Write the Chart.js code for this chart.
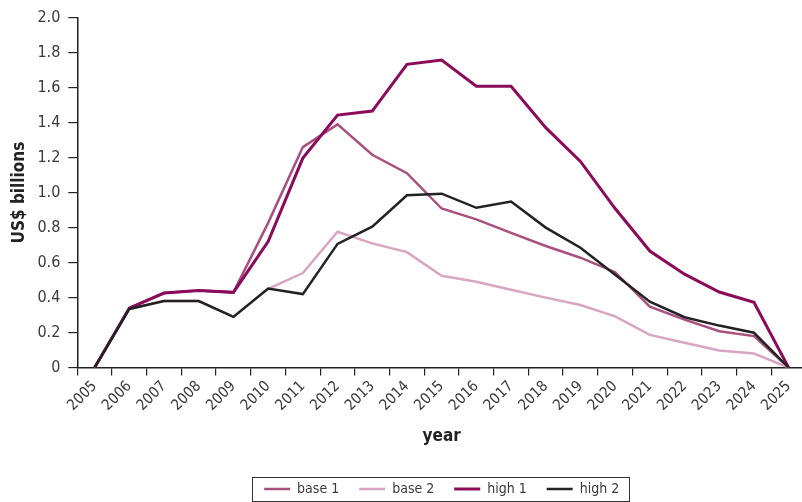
<!DOCTYPE html>
<html>
<head>
<meta charset="utf-8">
<script src="https://cdn.jsdelivr.net/npm/chart.js@4.4.1/dist/chart.umd.min.js"></script>
<style>
  html, body { margin: 0; padding: 0; background: #fff; overflow: hidden; }
  #wrap { width: 802px; height: 502px; overflow: hidden; }
</style>
</head>
<body>
<div id="wrap"><canvas id="chart" width="806" height="506"></canvas></div>
<script>
  // values (US$ billions)
  const years = ["2005","2006","2007","2008","2009","2010","2011","2012","2013","2014","2015",
                 "2016","2017","2018","2019","2020","2021","2022","2023","2024","2025"];
  const base1 = [0, 0.34, 0.426, 0.44, 0.43, 0.827, 1.26, 1.39, 1.216, 1.111, 0.909,
                 0.847, 0.77, 0.695, 0.628, 0.545, 0.348, 0.274, 0.208, 0.18, 0];
  const base2 = [0, 0.335, 0.38, 0.38, 0.29, 0.45, 0.54, 0.776, 0.71, 0.66, 0.525,
                 0.49, 0.445, 0.40, 0.358, 0.293, 0.187, 0.142, 0.098, 0.08, 0];
  const high1 = [0, 0.34, 0.426, 0.44, 0.43, 0.72, 1.197, 1.443, 1.466, 1.733, 1.757,
                 1.608, 1.608, 1.371, 1.178, 0.909, 0.666, 0.534, 0.432, 0.373, 0];
  const high2 = [0, 0.335, 0.38, 0.38, 0.29, 0.452, 0.42, 0.707, 0.805, 0.985, 0.994,
                 0.913, 0.949, 0.80, 0.685, 0.53, 0.377, 0.288, 0.24, 0.199, 0];

  const FONT = "'Liberation Sans Narrow', 'DejaVu Sans Condensed', sans-serif";

  // border round the legend items
  const legendFrame = {
    id: "legendFrame",
    afterDraw(chart) {
      const boxes = chart.legend && chart.legend.legendHitBoxes;
      if (!boxes || !boxes.length) return;
      const left = Math.min(...boxes.map(b => b.left)) - 12;
      const right = Math.max(...boxes.map(b => b.left + b.width)) + 10;
      const top = Math.min(...boxes.map(b => b.top)) - 5;
      const bottom = Math.max(...boxes.map(b => b.top + b.height)) + 5;
      const ctx = chart.ctx;
      ctx.save();
      ctx.strokeStyle = "#333";
      ctx.lineWidth = 1;
      ctx.strokeRect(Math.round(left) + 0.5, Math.round(top) + 0.5,
                     Math.round(right - left), Math.round(bottom - top));
      ctx.restore();
    },
  };

  const line = (label, data, color, width, order) => ({
    label, data, order,
    borderColor: color,
    backgroundColor: color,
    borderWidth: width,
    pointRadius: 0,
    tension: 0,
    fill: false,
  });

  new Chart(document.getElementById("chart"), {
    type: "line",
    data: {
      labels: years,
      datasets: [
        line("base 1", base1, "#a9507f", 2.5, 3),
        line("base 2", base2, "#d8a5c3", 2.5, 2),
        line("high 1", high1, "#8b0a5a", 3, 1),
        line("high 2", high2, "#222222", 2.5, 0),
      ],
    },
    options: {
      responsive: false,
      animation: false,
      layout: { padding: { top: 6, right: 0, bottom: 0, left: 9 } },
      scales: {
        x: {
          offset: true,
          grid: { offset: true, drawOnChartArea: false, drawTicks: true, tickLength: 8, color: "#222", lineWidth: 1.2 },
          border: { display: true, color: "#222", width: 1.5 },
          ticks: { minRotation: 45, maxRotation: 45, autoSkip: false, padding: 2, color: "#3a3a3a",
                   font: { family: FONT, size: 15 } },
          title: { display: true, text: "year", color: "#222", padding: { top: 10, bottom: 15 },
                   font: { family: FONT, size: 17, weight: "bold" } },
        },
        y: {
          min: 0, max: 2,
          grid: { drawOnChartArea: false, drawTicks: true, tickLength: 9, color: "#222", lineWidth: 1.2 },
          border: { display: true, color: "#222", width: 1.5 },
          ticks: { stepSize: 0.2, padding: 8, color: "#3a3a3a", font: { family: FONT, size: 16 },
                   callback: v => (Math.abs(v) < 1e-9 ? "0" : v.toFixed(1)) },
          title: { display: true, text: "US$ billions", color: "#222", padding: { top: 0, bottom: 0 },
                   font: { family: FONT, size: 17, weight: "bold" } },
        },
      },
      plugins: {
        tooltip: { enabled: false },
        legend: {
          position: "bottom",
          fullSize: false,
          labels: {
            usePointStyle: true,
            pointStyle: "line",
            pointStyleWidth: 26,
            boxHeight: 3,
            padding: 20,
            color: "#3a3a3a",
            font: { family: FONT, size: 14 },
            sort: (a, b) => a.datasetIndex - b.datasetIndex,
          },
        },
      },
    },
    plugins: [legendFrame],
  });
</script>
</body>
</html>
